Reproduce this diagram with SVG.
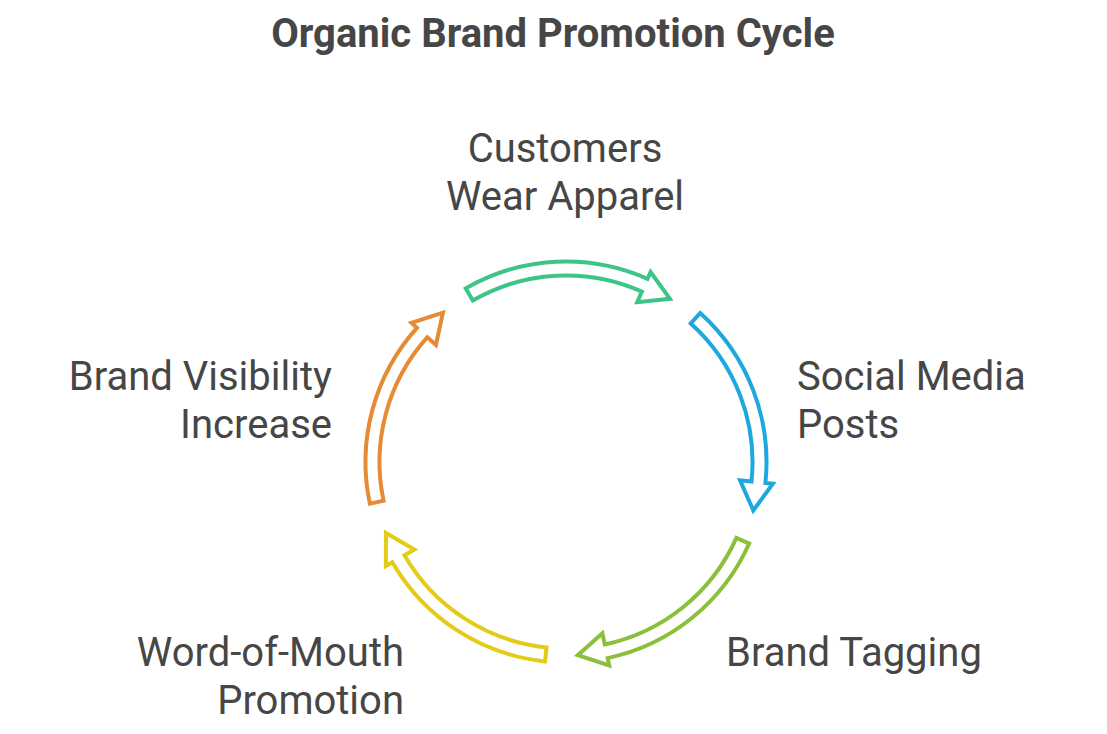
<svg xmlns="http://www.w3.org/2000/svg" width="1107" height="734" viewBox="0 0 1107 734">
<style>
.t{font-family:Roboto,"Liberation Sans",sans-serif;fill:#464646}
.title{font-size:40px;font-weight:700}
.lbl{font-size:40px}
.arr{fill:#ffffff;stroke-width:4;stroke-linejoin:miter}
</style>
<rect width="1107" height="734" fill="#ffffff"/>
<text class="t title" x="553" y="47" text-anchor="middle">Organic Brand Promotion Cycle</text>
<g id="connectors">
<path class="arr" stroke="#3DC587" d="M465.75,288.36 A200.5,200.5 0 0 1 647.55,278.83 L650.60,271.98 L669.97,298.80 L637.18,302.13 L641.86,291.62 A186.5,186.5 0 0 0 472.75,300.49 Z"/>
<path class="arr" stroke="#1EA8DE" d="M700.16,313.00 A200.5,200.5 0 0 1 765.40,482.96 L772.86,483.74 L753.34,510.45 L740.04,480.29 L751.48,481.49 A186.5,186.5 0 0 0 690.79,323.40 Z"/>
<path class="arr" stroke="#8CC03C" d="M749.17,543.55 A200.5,200.5 0 0 1 607.69,658.12 L609.25,665.46 L577.81,655.14 L602.38,633.18 L604.78,644.42 A186.5,186.5 0 0 0 736.38,537.86 Z"/>
<path class="arr" stroke="#E3CB17" d="M545.04,661.40 A200.5,200.5 0 0 1 392.36,562.25 L385.87,566 L385.96,532.92 L414.45,549.5 L404.49,555.25 A186.5,186.5 0 0 0 546.51,647.48 Z"/>
<path class="arr" stroke="#E68A34" d="M369.88,503.69 A200.5,200.5 0 0 1 417.00,327.84 L411.43,322.82 L442.92,312.69 L435.95,344.90 L427.40,337.21 A186.5,186.5 0 0 0 383.58,500.78 Z"/>
</g>
<g id="node-customers">
<text class="t lbl" x="565" y="162" text-anchor="middle">Customers</text>
<text class="t lbl" x="565" y="210" text-anchor="middle">Wear Apparel</text>
</g>
<g id="node-social">
<text class="t lbl" x="797" y="390">Social Media</text>
<text class="t lbl" x="797" y="438">Posts</text>
</g>
<g id="node-tagging">
<text class="t lbl" x="726" y="666">Brand Tagging</text>
</g>
<g id="node-wom">
<text class="t lbl" x="404" y="666" text-anchor="end">Word-of-Mouth</text>
<text class="t lbl" x="404" y="714" text-anchor="end">Promotion</text>
</g>
<g id="node-visibility">
<text class="t lbl" x="332" y="390" text-anchor="end">Brand Visibility</text>
<text class="t lbl" x="332" y="438" text-anchor="end">Increase</text>
</g>
</svg>
